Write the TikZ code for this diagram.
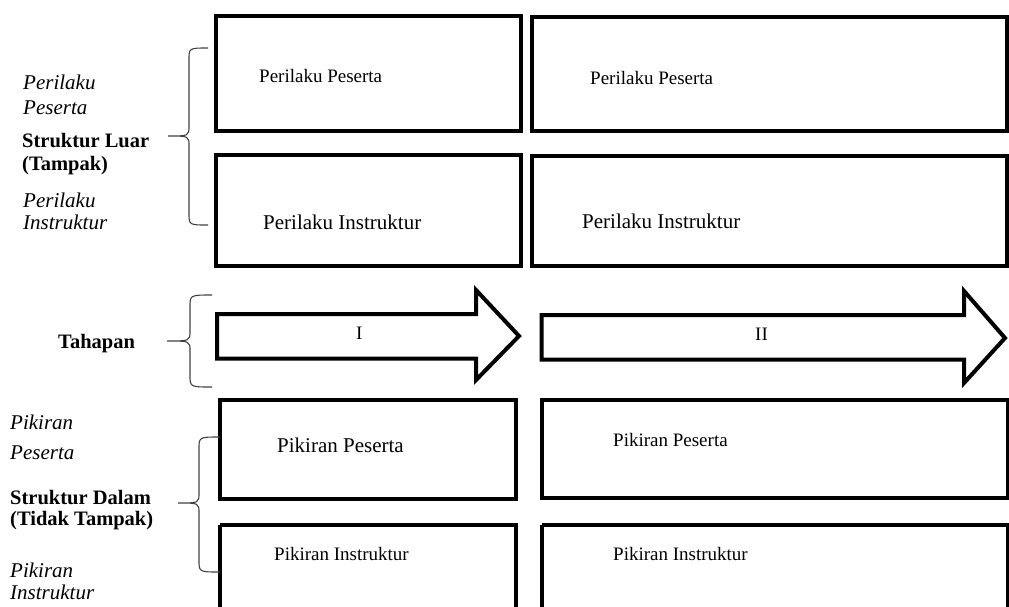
\documentclass[tikz,border=0pt]{standalone}
\usepackage{fontspec}
\setmainfont{Liberation Serif}
\newcommand\mybrace[6]{%
  \draw[bracestyle] (#1,#4) .. controls (#2,#4) .. (#2,{#4+12}) -- (#2,{#5-10})
    .. controls (#2,#5) .. (#3,#5) .. controls (#2,#5) .. (#2,{#5+10})
    -- (#2,{#6-12}) .. controls (#2,#6) .. (#1,#6);}
\begin{document}
\begin{tikzpicture}[x=1pt,y=-1pt,
  boxline/.style={draw=black,line width=4pt,line join=miter},
  bracestyle/.style={draw=black!75,line width=1.1pt},
  txt/.style={inner sep=0pt,anchor=base west,font=\fontsize{19}{22}\selectfont},
  txtb/.style={inner sep=0pt,anchor=base west,font=\fontsize{21}{24}\selectfont},
  lab/.style={inner sep=0pt,anchor=base west,font=\fontsize{21}{24}\selectfont\itshape},
  labb/.style={inner sep=0pt,anchor=base west,font=\fontsize{20.5}{24}\selectfont\bfseries}]
\useasboundingbox (0,0) rectangle (1009,606);
% top boxes
\draw[boxline] (216,15.5) rectangle (521,130.5);
\draw[boxline] (532,17) rectangle (1006.5,130.5);
\draw[boxline] (216,154.5) rectangle (521,265.5);
\draw[boxline] (532,155.5) rectangle (1006.5,265.5);
\node[txt] (pp1) at (259,82) {Perilaku Peserta};
\node[txt] (pp2) at (590,84) {Perilaku Peserta};
\node[txtb] (pi1) at (263,229) {Perilaku Instruktur};
\node[txtb] (pi2) at (582,228) {Perilaku Instruktur};
% arrows
\draw[boxline] (217,314) -- (476,314) -- (476,290) -- (519,336) -- (476,380) -- (476,358.5) -- (217,358.5) -- cycle;
\draw[boxline] (541.5,315) -- (964,315) -- (964,291) -- (1005,338) -- (964,383) -- (964,359.5) -- (541.5,359.5) -- cycle;
\node[txt] (s1) at (356,339) {I};
\node[txt] (s2) at (755,340) {II};
% bottom boxes
\draw[boxline] (219.5,399.5) rectangle (515.5,499);
\draw[boxline] (541.5,400) rectangle (1007.5,497.5);
\draw[boxline] (219.5,525) -- (219.5,620) (219.5,525) -- (515.5,525) -- (515.5,620);
\draw[boxline] (541.5,524.5) -- (541.5,620) (541.5,524.5) -- (1007.5,524.5) -- (1007.5,620);
\node[txtb] (kp1) at (277,452) {Pikiran Peserta};
\node[txt] (kp2) at (613,446) {Pikiran Peserta};
\node[txt] (ki1) at (274,560) {Pikiran Instruktur};
\node[txt] (ki2) at (613,560) {Pikiran Instruktur};
% left labels
\node[lab] (l1) at (23,89) {Perilaku};
\node[lab] (l2) at (23,114) {Peserta};
\node[labb] (l3) at (22,147) {Struktur Luar};
\node[labb] (l4) at (22,170) {(Tampak)};
\node[lab] (l5) at (23,207) {Perilaku};
\node[lab] (l6) at (23,229) {Instruktur};
\node[labb] (l7) at (58,348) {Tahapan};
\node[lab] (l8) at (10,429) {Pikiran};
\node[lab] (l9) at (10,459) {Peserta};
\node[labb] (l10) at (10,504) {Struktur Dalam};
\node[labb] (l11) at (10,525) {(Tidak Tampak)};
\node[lab] (l12) at (10,577) {Pikiran};
\node[lab] (l13) at (10,599) {Instruktur};
% braces
\mybrace{208}{189}{168}{48}{136}{225}
\mybrace{212}{190}{167}{295}{341}{387}
\mybrace{220}{199}{178}{437}{503}{572}
\end{tikzpicture}
\end{document}
